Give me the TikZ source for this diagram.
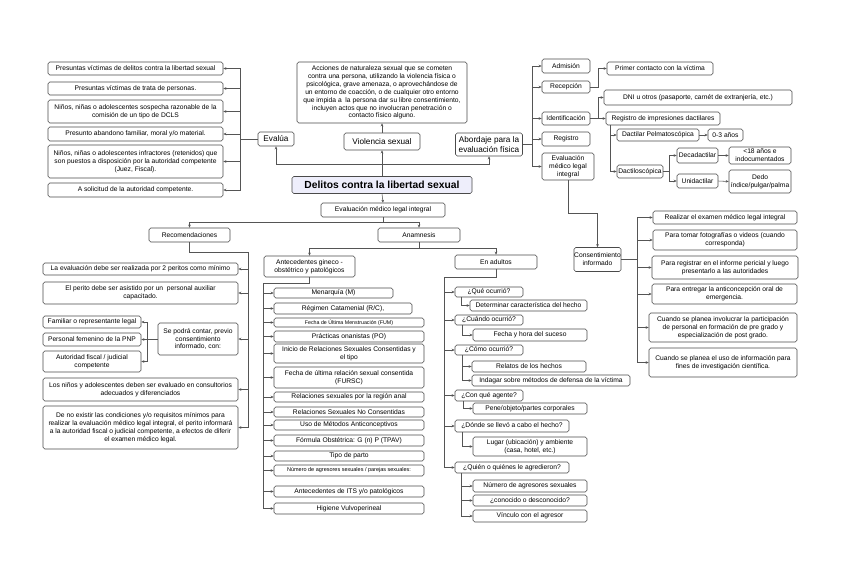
\documentclass[tikz,border=0pt]{standalone}
\usepackage{fontspec}
\setmainfont{Liberation Sans}
\usetikzlibrary{arrows.meta,calc}
\definecolor{bdr}{HTML}{4A4A4A}
\definecolor{lnc}{HTML}{555555}
\definecolor{rootfill}{HTML}{EEEEFB}
\newcommand\fsn{\fontsize{6.7}{7.9}\selectfont}
\newcommand\fsm{\fontsize{8.2}{9.3}\selectfont}
\newcommand\fss{\fontsize{5.3}{6}\selectfont}
\newcommand\fsa{\fontsize{5.5}{6.6}\selectfont}
\newcommand\fsr{\fontsize{10.3}{12}\selectfont\bfseries}
\begin{document}
\begin{tikzpicture}[x=1pt,y=-1pt,
 bx/.style={draw=bdr, line width=0.6pt, rounded corners=1.8pt, fill=white, align=center, font=\fsn, inner sep=0.3pt, text=black},
 wh/.style 2 args={minimum width=#1, minimum height=#2},
 ln/.style={draw=lnc, line width=0.55pt},
 arr/.style={ln, -{Stealth[length=3pt,width=2.6pt]}},
 ]
\useasboundingbox (0,0) rectangle (848,580);
\fill[white] (0,0) rectangle (848,580);

% ---------- root and top ----------
\node[bx, wh={180}{17}, fill=rootfill, font=\fsr] (root) at (382,185) {Delitos contra la libertad sexual};
\node[bx, wh={76}{17}, font=\fsm] (vs) at (382,141.5) {Violencia sexual};
\node[bx, wh={170}{61}] (desc) at (382,92.5) {Acciones de naturaleza sexual que se cometen\\contra una persona, utilizando la violencia física o\\psicológica, grave amenaza, o aprovechándose de\\un entorno de coacción, o de cualquier otro entorno\\que impida a\ \ la persona dar su libre consentimiento,\\incluyen actos que no involucran penetración o\\contacto físico alguno.};
\node[bx, wh={36}{14}, font=\fsm] (evalua) at (276,139) {Evalúa};
\node[bx, wh={67}{23}, font=\fsm] (abord) at (489,144.5) {Abordaje para la\\evaluación física};

\coordinate (jt) at ($(root.north)+(0,-12)$);
\draw[arr] (root.north) -- (vs.south);
\draw[arr] (vs.north) -- (desc.south);
\draw[arr] (jt) -| (evalua.south);
\draw[arr] (jt) -| (abord.south);

% ---------- Evalua children ----------
\node[bx, wh={175}{13}] (e1) at (135.5,68.5) {Presuntas víctimas de delitos contra la libertad sexual};
\node[bx, wh={175}{13}] (e2) at (135.5,88.5) {Presuntas víctimas de trata de personas.};
\node[bx, wh={175}{23}] (e3) at (135.5,111.5) {Niños, niñas o adolescentes sospecha razonable de la\\comisión de un tipo de DCLS};
\node[bx, wh={175}{14}] (e4) at (135.5,134) {Presunto abandono familiar, moral y/o material.};
\node[bx, wh={175}{33}] (e5) at (135.5,161.5) {Niños, niñas o adolescentes infractores (retenidos) que\\son puestos a disposición por la autoridad competente\\(Juez, Fiscal).};
\node[bx, wh={175}{14}] (e6) at (135.5,190) {A solicitud de la autoridad competente.};
\coordinate (bL) at ($(evalua.west)+(-17,0)$);
\draw[ln] (evalua.west) -- (bL);
\foreach \n in {e1,e2,e3,e4,e5,e6} \draw[arr] (bL) |- (\n.east);

% ---------- Abordaje children ----------
\node[bx, wh={48}{14}] (adm) at (566,66) {Admisión};
\node[bx, wh={48}{12}] (recep) at (566,87) {Recepción};
\node[bx, wh={48}{13}] (ident) at (566,118.5) {Identificación};
\node[bx, wh={48}{14}] (regi) at (566,139) {Registro};
\node[bx, wh={52}{27}] (evr) at (568,166.5) {Evaluación\\médico legal\\integral};
\coordinate (bR) at ($(abord.east)+(9,0)$);
\draw[ln] (abord.east) -- (bR);
\foreach \n in {adm,recep,ident,regi,evr} \draw[arr] (bR) |- (\n.west);

\node[bx, wh={106}{13}] (primer) at (660,68.5) {Primer contacto con la víctima};
\draw[arr] (recep.east) -- ++(8,0) |- (primer.west);

\node[bx, wh={188}{15}] (dni) at (698,97.5) {DNI u otros (pasaporte, carnét de extranjería, etc.)};
\node[bx, wh={114}{13}] (regimp) at (663,118.5) {Registro de impresiones dactilares};
\coordinate (iB) at ($(ident.east)+(8,0)$);
\draw[ln] (ident.east) -- (iB);
\draw[arr] (iB) |- (dni.west);
\draw[arr] (iB) |- (regimp.west);

\node[bx, wh={82}{12}] (pelm) at (658,135) {Dactilar Pelmatoscópica};
\node[bx, wh={35}{12}] (ot) at (725.5,135) {0-3 años};
\node[bx, wh={46}{13}] (dactilo) at (640,171.5) {Dactiloscópica};
\draw[arr] ([xshift=5pt]regimp.south west) |- (pelm.west);
\draw[arr] ([xshift=5pt]regimp.south west) |- (dactilo.west);
\draw[arr] (pelm.east) -- (ot.west);

\node[bx, wh={41}{15}] (deca) at (697.5,155.5) {Decadactilar};
\node[bx, wh={41}{14}] (uni) at (697.5,181) {Unidactilar};
\coordinate (dB) at ($(dactilo.east)+(6,0)$);
\draw[ln] (dactilo.east) -- (dB);
\draw[arr] (dB) |- (deca.west);
\draw[arr] (dB) |- (uni.west);
\node[bx, wh={62}{17}] (menor) at (760,155.5) {<18 años e\\indocumentados};
\node[bx, wh={62}{23}] (dedo) at (760,181.5) {Dedo\\índice/pulgar/palma};
\draw[arr] (deca.east) -- (menor.west);
\draw[arr] (uni.east) -- (dedo.west);

% ---------- Consentimiento ----------
\node[bx, wh={47}{24}, inner sep=0pt] (cons) at (597.5,259.5) {Consentimiento\\informado};
\draw[arr] (evr.south) -- ++(0,33) -| (cons.north);
\node[bx, wh={144}{13}] (r1) at (725,217.5) {Realizar el examen médico legal integral};
\node[bx, wh={144}{20}] (r2) at (725,240) {Para tomar fotografías o videos (cuando\\corresponda)};
\node[bx, wh={146}{23}] (r3) at (725,267.5) {Para registrar en el informe pericial y luego\\presentarlo a las autoridades};
\node[bx, wh={145}{20}] (r4) at (724.5,294) {Para entregar la anticoncepción oral de\\emergencia.};
\node[bx, wh={148}{29}] (r5) at (723,327.5) {Cuando se planea involucrar la participación\\de personal en formación de pre grado y\\especialización de post grado.};
\node[bx, wh={148}{29}] (r6) at (723,362.5) {Cuando se planea el uso de información para\\fines de investigación científica.};
\coordinate (cB) at ($(cons.east)+(16,0)$);
\draw[ln] (cons.east) -- (cB);
\foreach \n in {r1,r2,r3,r4,r5,r6} \draw[arr] (cB) |- (\n.west);

% ---------- Evaluacion medico legal integral ----------
\node[bx, wh={124}{14}] (emi) at (383,210) {Evaluación médico legal integral};
\draw[arr] (root.south) -- (emi.north);
\node[bx, wh={81}{14}] (recom) at (189.5,235) {Recomendaciones};
\node[bx, wh={82}{14}] (anam) at (419,235) {Anamnesis};
\coordinate (ej) at ($(emi.south)+(0,5)$);
\draw[ln] (emi.south) -- (ej);
\draw[arr] (ej) -| (recom.north);
\draw[arr] (ej) -| (anam.north);

% ---------- Recomendaciones ----------
\node[bx, wh={195}{12}] (l1) at (140.5,269) {La evaluación debe ser realizada por 2 peritos como mínimo};
\node[bx, wh={195}{22}] (l2) at (140.5,293) {El perito debe ser asistido por un\ \ personal auxiliar\\capacitado.};
\node[bx, wh={80}{32}] (sp) at (198,339) {Se podrá contar, previo\\consentimiento\\informado, con:};
\node[bx, wh={195}{23}] (l3) at (140.5,389.5) {Los niños y adolescentes deben ser evaluado en consultorios\\adecuados y diferenciados};
\node[bx, wh={195}{43}] (l4) at (140.5,427.5) {De no existir las condiciones y/o requisitos mínimos para\\realizar la evaluación médico legal integral, el perito informará\\a la autoridad fiscal o judicial competente, a efectos de diferir\\el examen médico legal.};
\coordinate (rB) at (248,252);
\draw[ln] (recom.south) |- (rB);
\foreach \n in {l1,l2,sp,l3,l4} \draw[arr] (rB) |- (\n.east);

\node[bx, wh={98}{12}] (f1) at (92,322) {Familiar o representante legal};
\node[bx, wh={98}{13}] (f2) at (92,339.5) {Personal femenino de la PNP};
\node[bx, wh={98}{21}] (f3) at (92,361.5) {Autoridad fiscal / judicial\\competente};
\coordinate (sB) at ($(sp.west)+(-10,0)$);
\draw[ln] (sp.west) -- (sB);
\foreach \n in {f1,f2,f3} \draw[arr] (sB) |- (\n.east);

% ---------- Anamnesis ----------
\node[bx, wh={91}{21}] (antec) at (309.5,266.5) {Antecedentes gineco -\\obstétrico y patológicos};
\node[bx, wh={82}{14}] (adult) at (496,262) {En adultos};
\coordinate (aj) at ($(anam.south)+(0,6)$);
\draw[ln] (anam.south) -- (aj);
\draw[arr] (aj) -| (antec.north);
\draw[arr] (aj) -| (adult.north);

% Antecedentes children
\node[bx, wh={119}{10}] (m1) at (333.5,293) {Menarquía (M)};
\node[bx, wh={138}{11}] (m2) at (343,308.5) {Régimen Catamenial (R/C),};
\node[bx, wh={150}{9}, font=\fss] (m3) at (349,322.5) {Fecha de Última Menstruación (FUM)};
\node[bx, wh={150}{11}] (m4) at (349,336.5) {Prácticas onanistas (PO)};
\node[bx, wh={150}{19}] (m5) at (349,353.5) {Inicio de Relaciones Sexuales Consentidas y\\el tipo};
\node[bx, wh={150}{21}] (m6) at (349,377.5) {Fecha de última relación sexual consentida\\(FURSC)};
\node[bx, wh={150}{10}] (m7) at (349,397) {Relaciones sexuales por la región anal};
\node[bx, wh={150}{10}] (m8) at (349,412) {Relaciones Sexuales No Consentidas};
\node[bx, wh={150}{10}] (m9) at (349,425) {Uso de Métodos Anticonceptivos};
\node[bx, wh={150}{11}] (m10) at (349,440.5) {Fórmula Obstétrica: G (n) P (TPAV)};
\node[bx, wh={150}{10}] (m11) at (349,456) {Tipo de parto};
\node[bx, wh={150}{11}, font=\fsa] (m12) at (349,470.5) {Número de agresores sexuales / parejas sexuales:};
\node[bx, wh={150}{11}] (m13) at (349,491.5) {Antecedentes de ITS y/o patológicos};
\node[bx, wh={150}{11}] (m14) at (349,508.5) {Higiene Vulvoperineal};
\coordinate (aB) at (263,283);
\draw[ln] (antec.south) |- (aB);
\foreach \n in {m1,m2,m3,m4,m5,m6,m7,m8,m9,m10,m11,m12,m13,m14} \draw[arr] (aB) |- (\n.west);

% En adultos children
\node[bx, wh={68}{10}] (q1) at (489,292) {¿Qué ocurrió?};
\node[bx, wh={68}{10}] (q2) at (489,320) {¿Cuándo ocurrió?};
\node[bx, wh={68}{10}] (q3) at (489,350) {¿Cómo ocurrió?};
\node[bx, wh={68}{11}] (q4) at (489,395.5) {¿Con qué agente?};
\node[bx, wh={114}{12}] (q5) at (512,426) {¿Dónde se llevó a cabo el hecho?};
\node[bx, wh={114}{11}] (q6) at (512,467.5) {¿Quién o quiénes le agredieron?};
\coordinate (qB) at (444,277);
\draw[ln] (adult.south) |- (qB);
\foreach \n in {q1,q2,q3,q4,q5,q6} \draw[arr] (qB) |- (\n.west);

\node[bx, wh={117}{11}] (c1) at (528.5,305.5) {Determinar característica del hecho};
\node[bx, wh={114}{12}] (c2) at (530,335) {Fecha y hora del suceso};
\node[bx, wh={114}{11}] (c3) at (529,366.5) {Relatos de los hechos};
\node[bx, wh={158}{11}] (c4) at (551,380.5) {Indagar sobre métodos de defensa de la víctima};
\node[bx, wh={114}{11}] (c5) at (530,408.5) {Pene/objeto/partes corporales};
\node[bx, wh={114}{19}] (c6) at (530,446.5) {Lugar (ubicación) y ambiente\\(casa, hotel, etc.)};
\node[bx, wh={114}{12}] (c7) at (530,486) {Número de agresores sexuales};
\node[bx, wh={114}{11}] (c8) at (530,500.5) {¿conocido o desconocido?};
\node[bx, wh={114}{12}] (c9) at (530,516) {Vínculo con el agresor};
\draw[arr] ([xshift=7pt]q1.south west) |- (c1.west);
\draw[arr] ([xshift=8pt]q2.south west) |- (c2.west);
\draw[arr] ([xshift=8pt]q3.south west) |- (c3.west);
\draw[arr] ([xshift=8pt]q3.south west) |- (c4.west);
\draw[arr] ([xshift=9pt]q4.south west) |- (c5.west);
\draw[arr] ([xshift=8pt]q5.south west) |- (c6.west);
\draw[arr] ([xshift=7pt]q6.south west) |- (c7.west);
\draw[arr] ([xshift=7pt]q6.south west) |- (c8.west);
\draw[arr] ([xshift=7pt]q6.south west) |- (c9.west);
\end{tikzpicture}
\end{document}
